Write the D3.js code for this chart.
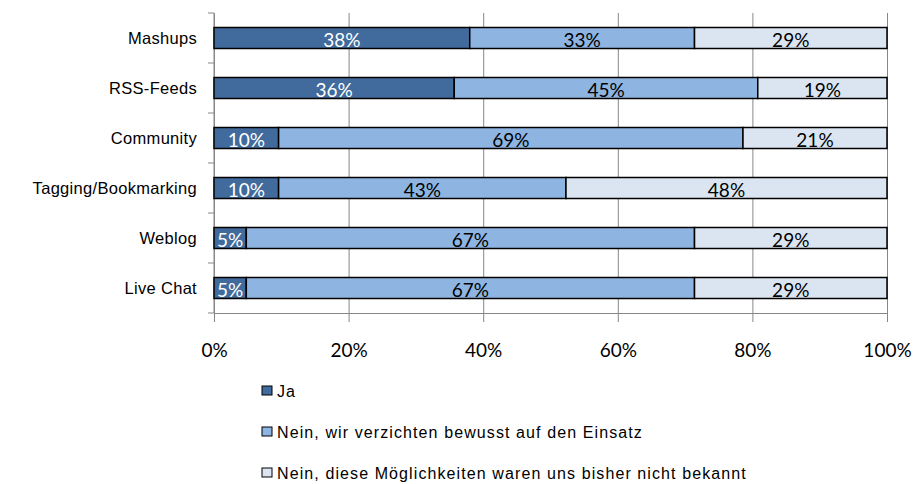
<!DOCTYPE html>
<html>
<head>
<meta charset="utf-8">
<script src="https://cdn.jsdelivr.net/npm/d3@7"></script>
<style>
    body { margin: 0; background: #fff; }
    .axis path, .axis line { stroke: #878787; }
    .grid line { stroke: #878787; }
    .grid path { display: none; }
</style>
</head>
<body>
<div id="chart"></div>
<script>
/* global d3 */

var categories = ["Mashups", "RSS-Feeds", "Community", "Tagging/Bookmarking", "Weblog", "Live Chat"];
var seriesNames = ["Ja", "Nein, wir verzichten bewusst auf den Einsatz", "Nein, diese Möglichkeiten waren uns bisher nicht bekannt"];
var ja = [38.0, 35.7, 9.6, 9.6, 4.8, 4.8];
var neinBewusst = [33.4, 45.1, 69.0, 42.7, 66.6, 66.6];
var neinUnbekannt = [28.6, 19.2, 21.4, 47.7, 28.6, 28.6];
var tickValues = [0, 20, 40, 60, 80, 100];
var colors = ["#416b9c", "#8eb4e2", "#dbe5f1"];
var labelColors = ["#fff", "#000", "#000"];

var margin = {top: 13, right: 29, bottom: 171, left: 214},
        width = 916 - margin.left - margin.right,
        height = 484 - margin.top - margin.bottom;

var rows = categories.map(function (c, i) {
    return {category: c, v0: ja[i], v1: neinBewusst[i], v2: neinUnbekannt[i]};
});
var stack = d3.stack().keys(["v0", "v1", "v2"]);
var layers = stack(rows);

var x = d3.scaleLinear().domain([0, 100]).range([0, width]);
var y = d3.scaleBand().domain(categories).range([0, height])
        .paddingInner(0.58).paddingOuter(0.29);

var svg = d3.select("#chart").append("svg")
        .attr("width", 916)
        .attr("height", 484);

var canvas = svg.append("g")
        .attr("transform", "translate(" + margin.left + "," + margin.top + ")");

// vertical gridlines
canvas.append("g")
        .attr("class", "grid")
        .call(d3.axisTop(x).tickValues(tickValues).tickSize(-height).tickFormat(""));

// x axis
var xAxis = canvas.append("g")
        .attr("class", "axis")
        .attr("transform", "translate(0," + height + ")")
        .call(d3.axisBottom(x).tickValues(tickValues).tickSize(9).tickSizeOuter(0).tickPadding(22)
                .tickFormat(function (d) { return d + "%"; }));
xAxis.selectAll("text")
        .style("font-family", "Lato, 'Open Sans', sans-serif")
        .style("font-size", "19px")
        .attr("fill", "#000");

// y axis with ticks on category boundaries
var yAxis = canvas.append("g").attr("class", "axis");
yAxis.append("line")
        .attr("x1", 0).attr("x2", 0)
        .attr("y1", 0).attr("y2", height);
yAxis.selectAll(".bound")
        .data(d3.range(categories.length + 1))
        .enter().append("line")
        .attr("class", "bound")
        .attr("x1", -6).attr("x2", 0)
        .attr("y1", function (i) { return i * y.step(); })
        .attr("y2", function (i) { return i * y.step(); });
yAxis.selectAll(".cat")
        .data(categories)
        .enter().append("text")
        .attr("class", "cat")
        .attr("x", -17)
        .attr("y", function (d) { return y(d) + y.bandwidth() / 2; })
        .attr("dy", "0.35em")
        .attr("text-anchor", "end")
        .style("font-family", "'Liberation Sans', Arial, sans-serif")
        .style("font-size", "16.5px")
        .style("letter-spacing", "0.3px")
        .text(function (d) { return d; });

// bars
var layer = canvas.selectAll(".layer")
        .data(layers)
        .enter().append("g")
        .attr("class", "layer");

layer.selectAll("rect")
        .data(function (d) { return d; })
        .enter().append("rect")
        .attr("x", function (d) { return x(d[0]); })
        .attr("y", function (d) { return y(d.data.category); })
        .attr("width", function (d) { return x(d[1]) - x(d[0]); })
        .attr("height", y.bandwidth())
        .attr("fill", function (d, i, nodes) {
            return colors[d3.select(nodes[i].parentNode).datum().index];
        })
        .attr("stroke", "#000")
        .attr("stroke-width", 1.5);

layer.selectAll("text")
        .data(function (d) { return d; })
        .enter().append("text")
        .attr("x", function (d) { return x((d[0] + d[1]) / 2); })
        .attr("y", function (d) { return y(d.data.category) + y.bandwidth() / 2 + 9; })
        .attr("text-anchor", "middle")
        .style("font-family", "Lato, 'Open Sans', sans-serif")
        .style("font-size", "19px")
        .attr("fill", function (d, i, nodes) {
            return labelColors[d3.select(nodes[i].parentNode).datum().index];
        })
        .text(function (d) { return Math.round(d[1] - d[0]) + "%"; });

// legend
var legend = svg.selectAll(".legend")
        .data(seriesNames)
        .enter().append("g")
        .attr("class", "legend")
        .attr("transform", function (d, i) { return "translate(262," + (391 + i * 41) + ")"; });

legend.append("rect")
        .attr("x", 0).attr("y", -5)
        .attr("width", 10).attr("height", 9)
        .attr("fill", function (d, i) { return colors[i]; })
        .attr("stroke", "#000")
        .attr("stroke-width", 1);

legend.append("text")
        .attr("x", 15)
        .attr("dy", "0.35em")
        .style("font-family", "'Liberation Sans', Arial, sans-serif")
        .style("font-size", "16px")
        .style("letter-spacing", "1.1px")
        .text(function (d) { return d; });
</script>
</body>
</html>
